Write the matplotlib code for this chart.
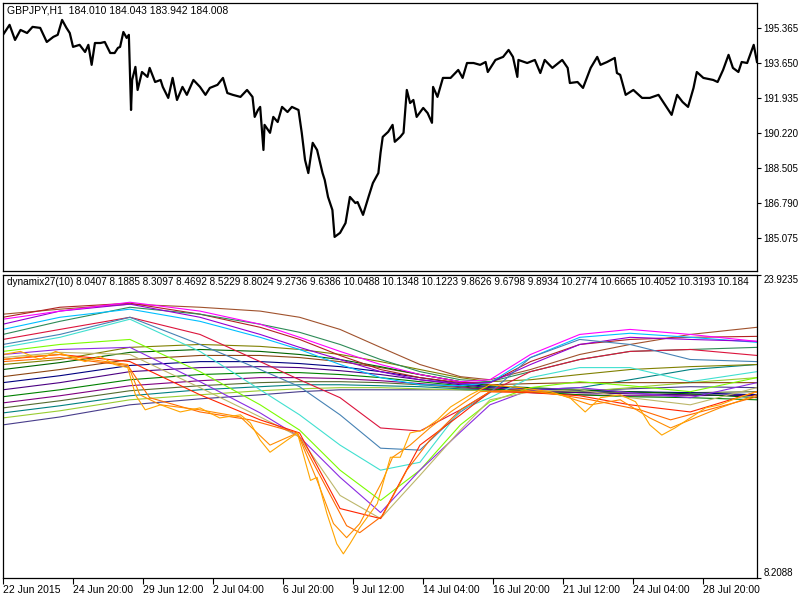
import matplotlib
matplotlib.use("Agg")
import matplotlib.pyplot as plt

plt.rcParams['font.family'] = ['Liberation Sans', 'DejaVu Sans']

# ---- GBPJPY H1 price (bar number, price) ----
price_bar = [0, 6, 11, 16, 22, 27, 34, 37, 40, 46, 50, 54, 58, 61, 64, 70, 75, 78, 81, 84,
             89, 93, 98, 102, 105, 107, 110, 113, 115, 117, 118, 121, 123, 127, 132, 134, 139,
             144, 146, 151, 155, 159, 164, 168, 174, 180, 185, 189, 196, 201, 205, 210, 217,
             223, 228, 230, 233, 235, 238, 239, 244, 247, 251, 255, 260, 264, 270, 273, 276,
             279, 283, 287, 292, 294, 297, 301, 303, 308, 313, 317, 322, 324, 329, 334, 338,
             343, 345, 347, 352, 356, 358, 363, 366, 369, 372, 375, 378, 384, 388, 392, 393,
             397, 402, 409, 416, 420, 424, 430, 436, 441, 443, 450, 457, 462, 466, 470, 471,
             479, 486, 491, 495, 502, 511, 516, 518, 525, 530, 537, 543, 546, 552, 559, 561,
             564, 569, 576, 584, 591, 599, 605, 611, 616, 621, 626, 631, 634, 640, 649, 653,
             658, 663, 667, 672, 675, 680, 686, 689]
price_val = [195.04, 195.53, 194.79, 195.28, 195.13, 195.43, 195.38, 195.04, 194.69, 194.94,
             195.04, 195.77, 195.38, 195.13, 194.45, 194.55, 194.20, 194.55, 193.57, 194.64,
             194.64, 194.69, 194.15, 194.15, 194.40, 194.45, 195.18, 194.89, 195.04, 191.36,
             192.83, 193.47, 192.34, 193.22, 192.98, 193.42, 192.73, 192.83, 192.49, 191.95,
             192.93, 191.85, 192.49, 192.10, 192.83, 192.49, 192.10, 192.44, 192.59, 192.93,
             192.19, 192.10, 192.00, 192.34, 192.00, 191.02, 191.36, 191.51, 189.40, 190.63,
             190.24, 191.02, 190.77, 191.51, 191.26, 191.51, 191.36, 190.24, 188.91, 188.27,
             189.75, 189.40, 188.27, 187.93, 187.10, 186.46, 185.14, 185.34, 185.82, 187.10,
             186.80, 186.85, 186.22, 187.10, 187.78, 188.27, 189.26, 190.04, 190.29, 190.63,
             189.80, 190.04, 190.24, 192.34, 191.70, 191.85, 191.02, 191.46, 191.21, 190.73,
             192.49, 192.00, 192.93, 192.93, 193.32, 192.93, 193.66, 193.66, 193.57, 193.71,
             193.22, 193.81, 193.96, 194.30, 193.96, 192.98, 193.81, 193.66, 193.81, 193.17,
             193.81, 193.42, 193.81, 193.42, 192.68, 192.73, 192.44, 193.42, 193.96, 193.57,
             193.71, 193.91, 193.17, 193.08, 192.10, 192.34, 191.95, 191.95, 192.10, 191.61,
             191.12, 192.10, 191.75, 191.51, 192.44, 193.22, 192.93, 192.83, 192.73, 193.32,
             194.06, 193.42, 193.22, 193.71, 193.66, 194.55, 193.71]

# ---- dynamix27 lines ----
grid_bar = [0, 52, 116, 180, 235, 271, 308, 345, 381, 418, 445, 482, 527, 573, 628, 689]

sienna = [21.89, 22.15, 22.41, 22.25, 22.05, 21.73, 21.10, 20.17, 19.28, 18.65, 18.49, 19.02, 19.80, 20.32, 20.84, 21.21]
magenta = [21.63, 22.05, 22.51, 22.05, 21.37, 20.69, 19.96, 19.28, 18.76, 18.39, 18.49, 19.80, 20.84, 21.10, 20.84, 20.48]
darkviolet = [21.37, 22.05, 22.41, 21.73, 20.84, 20.17, 19.54, 18.91, 18.49, 18.29, 18.34, 19.28, 20.32, 20.69, 20.58, 20.48]
skyblue = [21.10, 21.73, 22.15, 21.52, 20.69, 20.06, 19.28, 18.60, 18.23, 18.18, 18.34, 19.64, 20.69, 20.90, 20.69, 20.43]
seagreen = [20.84, 21.52, 22.25, 21.89, 21.37, 20.95, 20.32, 19.54, 18.91, 18.49, 18.39, 18.91, 19.54, 19.96, 20.06, 20.17]
firebrick = [21.73, 22.25, 22.46, 21.89, 21.21, 20.58, 19.75, 19.02, 18.60, 18.34, 18.34, 19.43, 20.32, 20.58, 20.69, 20.74]

crimson = [20.58, 21.10, 21.73, 20.84, 19.43, 18.49, 17.56, 15.99, 15.83, 16.93, 17.87, 18.91, 19.54, 19.96, 20.06, 19.75]
steelblue = [20.32, 20.84, 21.73, 20.32, 19.02, 18.13, 16.67, 14.94, 14.84, 16.82, 17.82, 19.64, 20.58, 20.32, 19.54, 19.43]
turquoise = [20.17, 20.69, 21.63, 19.96, 17.97, 16.67, 15.10, 13.80, 14.21, 16.93, 17.56, 18.60, 19.12, 19.12, 18.39, 18.91]
lawngreen = [19.96, 20.32, 20.58, 18.91, 17.19, 15.88, 13.80, 12.23, 13.80, 16.15, 17.35, 18.08, 18.39, 18.18, 17.87, 18.60]
blueviolet = [19.80, 20.06, 20.17, 18.39, 16.77, 15.52, 13.43, 11.60, 13.80, 15.78, 17.19, 17.97, 18.08, 17.82, 17.56, 18.34]
khaki = [19.64, 19.91, 19.80, 18.08, 16.56, 15.52, 12.49, 11.29, 13.53, 15.88, 17.45, 17.87, 17.97, 17.56, 17.19, 18.08]
red = [19.54, 19.80, 19.43, 17.71, 16.41, 15.73, 11.81, 11.29, 15.10, 16.67, 17.87, 17.82, 17.66, 17.19, 16.82, 17.87]

olive = [19.28, 19.54, 20.17, 20.32, 20.22, 20.06, 19.80, 19.43, 19.02, 18.60, 18.39, 18.49, 18.76, 19.02, 19.17, 19.28]
darkgreen = [19.02, 19.38, 19.91, 20.06, 19.96, 19.80, 19.54, 19.17, 18.76, 18.39, 18.18, 18.08, 17.97, 17.87, 17.76, 17.56]
saddlebrown = [18.65, 19.02, 19.54, 19.75, 19.75, 19.64, 19.43, 19.12, 18.76, 18.39, 18.23, 18.29, 18.34, 18.34, 18.34, 18.34]
navy = [18.34, 18.70, 19.23, 19.43, 19.43, 19.33, 19.17, 18.91, 18.60, 18.29, 18.13, 18.02, 17.92, 17.87, 17.82, 17.71]
indigo = [17.97, 18.34, 18.91, 19.12, 19.17, 19.12, 18.96, 18.76, 18.49, 18.23, 18.08, 17.92, 17.82, 17.76, 17.71, 17.66]
green = [17.61, 17.97, 18.49, 18.76, 18.86, 18.86, 18.76, 18.60, 18.39, 18.18, 18.02, 17.87, 17.71, 17.61, 17.56, 17.45]
purple = [17.29, 17.66, 18.18, 18.44, 18.60, 18.60, 18.55, 18.44, 18.29, 18.13, 17.97, 17.82, 17.71, 17.66, 17.66, 17.71]
darkolive = [17.03, 17.40, 17.92, 18.18, 18.34, 18.39, 18.39, 18.34, 18.23, 18.08, 17.97, 17.87, 17.82, 17.82, 17.82, 17.87]
teal = [16.77, 17.14, 17.66, 17.97, 18.13, 18.23, 18.23, 18.18, 18.13, 18.02, 17.97, 17.97, 18.08, 18.49, 19.02, 19.28]
yellowgreen = [16.51, 16.88, 17.45, 17.71, 17.92, 18.02, 18.08, 18.08, 18.02, 17.97, 17.92, 17.87, 17.87, 18.08, 18.34, 18.60]
slateblue = [16.15, 16.56, 17.19, 17.50, 17.71, 17.87, 17.97, 17.97, 17.97, 17.97, 17.92, 17.87, 17.92, 18.02, 18.13, 18.08]

# fast lines follow the price more closely
orange_bar = [0, 16, 34, 48, 61, 75, 89, 102, 114, 121, 130, 144, 162, 180, 198, 217, 226, 235,
              244, 256, 269, 281, 287, 296, 305, 311, 317, 326, 342, 354, 363, 372, 384, 397,
              409, 427, 445, 473, 500, 518, 532, 546, 564, 578, 591, 602, 614, 628, 642, 655,
              674, 689]
orange_val = [19.80, 19.96, 19.54, 19.96, 19.70, 19.43, 19.70, 19.28, 19.12, 17.71, 16.93, 17.19,
              16.82, 17.03, 16.51, 16.67, 16.25, 15.36, 14.73, 15.21, 15.73, 13.27, 13.43, 11.55,
              9.98, 9.46, 9.98, 10.82, 12.07, 14.47, 14.47, 15.73, 15.88, 16.41, 17.08, 17.71,
              18.23, 18.08, 17.87, 17.56, 16.82, 17.56, 17.71, 17.35, 16.15, 15.62, 15.99, 16.51,
              17.03, 17.19, 17.61, 17.87]
darkorange_bar = [0, 25, 52, 80, 114, 125, 144, 180, 217, 244, 269, 287, 302, 314, 326, 347, 356,
                  372, 390, 409, 436, 473, 509, 537, 564, 591, 610, 628, 655, 689]
darkorange_val = [19.54, 19.70, 19.80, 19.54, 19.28, 17.71, 17.19, 16.93, 16.56, 15.10, 15.73,
                  13.27, 11.03, 10.30, 11.03, 13.27, 14.47, 15.10, 15.99, 16.82, 17.87, 17.97,
                  17.71, 17.19, 17.45, 16.51, 15.99, 16.41, 17.03, 17.71]
tangerine_bar = [0, 52, 114, 134, 180, 226, 269, 292, 314, 326, 347, 369, 390, 418, 445, 491,
                 537, 582, 610, 637, 689]
tangerine_val = [19.43, 19.64, 19.23, 17.56, 16.82, 16.41, 15.73, 13.27, 10.92, 10.56, 11.45,
                 13.80, 15.36, 16.93, 17.87, 17.87, 17.45, 16.93, 16.41, 16.82, 17.61]

price_ticks = [195.365, 193.650, 191.935, 190.220, 188.505, 186.790, 185.075]
ind_ticks = [8.2088, 23.9235]
time_ticks = [0, 64, 128, 192, 256, 320, 384, 448, 512, 576, 640]
time_labels = ['22 Jun 2015', '24 Jun 20:00', '29 Jun 12:00', '2 Jul 04:00', '6 Jul 20:00',
               '9 Jul 12:00', '14 Jul 04:00', '16 Jul 20:00', '21 Jul 12:00', '24 Jul 04:00',
               '28 Jul 20:00']
ind_header = ('dynamix27(10) 8.0407 8.1885 8.3097 8.4692 8.5229 8.8024 9.2736 9.6386 10.0488 '
              '10.1348 10.1223 9.8626 9.6798 9.8934 10.2774 10.6665 10.4052 10.3193 10.184')

fig = plt.figure(figsize=(8, 6), dpi=100)
ax1 = fig.add_axes([0.00375, 0.5483, 0.9425, 0.4467])
ax2 = fig.add_axes([0.00375, 0.0367, 0.9425, 0.505])

ax1.plot(price_bar, price_val, color='black', lw=1.6)
ax1.set_ylim(183.47, 196.60)

smooth = [(slateblue, '#483D8B'), (yellowgreen, '#9ACD32'), (teal, '#008080'),
          (darkolive, '#556B2F'), (purple, '#800080'), (green, '#008000'), (indigo, '#4B0082'),
          (navy, '#000080'), (saddlebrown, '#8B4513'), (darkgreen, '#006400'), (olive, '#808000'),
          (sienna, '#A0522D'), (firebrick, '#B22222'), (seagreen, '#2E8B57'), (skyblue, '#00BFFF'),
          (darkviolet, '#9400D3'), (magenta, '#FF00FF'), (crimson, '#DC143C'),
          (steelblue, '#4682B4'), (turquoise, '#40E0D0'), (lawngreen, '#7CFC00'),
          (blueviolet, '#8A2BE2'), (khaki, '#BDB76B'), (red, '#FF2400')]
for vals, col in smooth:
    ax2.plot(grid_bar, vals, color=col, lw=0.8)
ax2.plot(tangerine_bar, tangerine_val, color='#FF6A00', lw=0.8)
ax2.plot(darkorange_bar, darkorange_val, color='#FF8C00', lw=0.8)
ax2.plot(orange_bar, orange_val, color='#FFA500', lw=0.8)
ax2.set_ylim(8.2088, 23.9235)

for ax in (ax1, ax2):
    ax.set_xlim(0, 689)
    for s in ax.spines.values():
        s.set_color('black')
        s.set_linewidth(0.9)
    ax.yaxis.tick_right()
    ax.tick_params(axis='y', direction='out', length=3, width=0.8, pad=1.5, labelsize=7)

ax1.set_xticks([])
ax1.set_yticks(price_ticks)
ax1.set_yticklabels(['%.3f' % v for v in price_ticks])

ax2.set_yticks(ind_ticks)
ax2.set_yticklabels(['%.4f' % v for v in ind_ticks])
labs = ax2.get_yticklabels()
labs[0].set_verticalalignment('bottom')
labs[1].set_verticalalignment('top')

ax2.set_xticks(time_ticks)
ax2.set_xticklabels(time_labels, ha='left')
ax2.tick_params(axis='x', direction='out', length=4, width=0.8, pad=1, labelsize=7.5)

ax1.text(0.005, 0.99, 'GBPJPY,H1  184.010 184.043 183.942 184.008', transform=ax1.transAxes,
         ha='left', va='top', fontsize=7.5)
ax2.text(0.005, 0.992, ind_header, transform=ax2.transAxes, ha='left', va='top', fontsize=7.2)

fig.savefig('out.png', dpi=100)
